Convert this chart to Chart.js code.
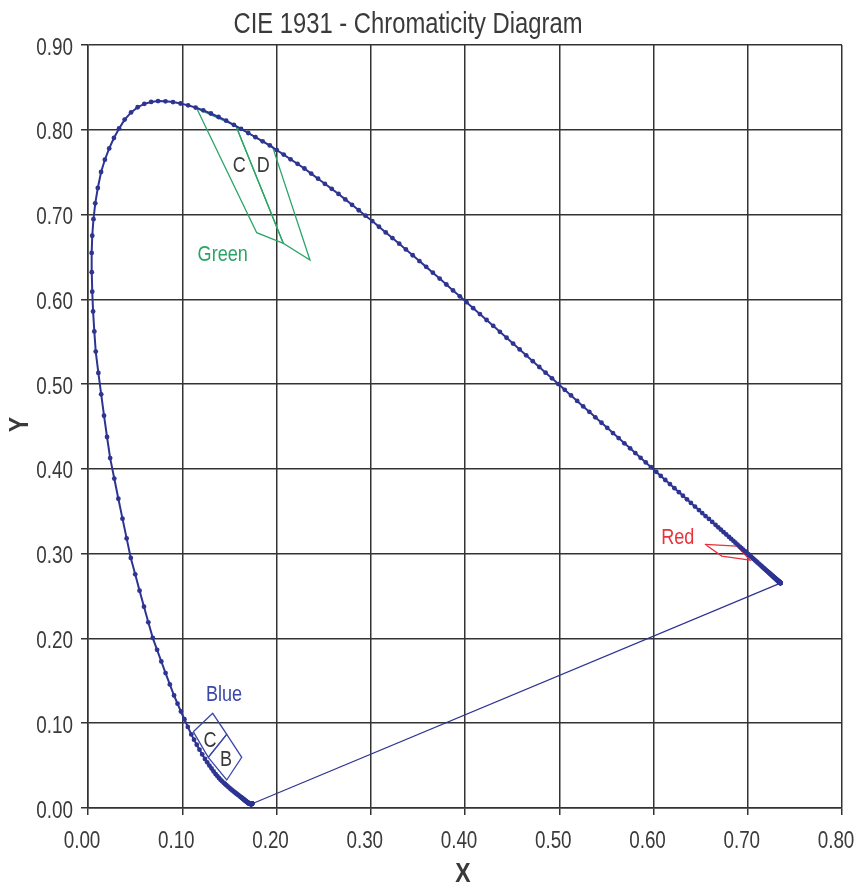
<!DOCTYPE html>
<html>
<head>
<meta charset="utf-8">
<title>CIE 1931 - Chromaticity Diagram</title>
<script src="https://cdn.jsdelivr.net/npm/chart.js@4.4.1/dist/chart.umd.min.js"></script>
<style>
  html, body { margin: 0; padding: 0; background: #fff; }
  #cie { display: block; }
</style>
</head>
<body>
<canvas id="cie" width="857" height="888"></canvas>
<script>
// Spectral locus, CIE 1931 2°, one point per nm from 380 to 700 nm
const startNm = 380;
const locusX = [
  .1741, .1741, .1741, .1740, .1740, .1740, .1740, .1739, .1739, .1738,
  .1738, .1738, .1737, .1737, .1736, .1736, .1735, .1735, .1734, .1734,
  .1733, .1732, .1732, .1731, .1731, .1730, .1729, .1728, .1728, .1727,
  .1726, .1725, .1724, .1723, .1722, .1721, .1720, .1718, .1717, .1716,
  .1714, .1712, .1710, .1708, .1705, .1703, .1700, .1698, .1695, .1692,
  .1689, .1685, .1681, .1677, .1673, .1669, .1664, .1659, .1654, .1649,
  .1644, .1637, .1631, .1624, .1618, .1611, .1602, .1593, .1584, .1575,
  .1566, .1555, .1544, .1532, .1521, .1510, .1496, .1482, .1468, .1454,
  .1440, .1423, .1406, .1389, .1372, .1355, .1333, .1311, .1288, .1265,
  .1241, .1212, .1183, .1154, .1125, .1096, .1059, .1023, .0986, .0950,
  .0913, .0868, .0823, .0778, .0733, .0687, .0640, .0594, .0547, .0501,
  .0454, .0410, .0366, .0322, .0279, .0235, .0202, .0170, .0140, .0110,
  .0082, .0067, .0054, .0045, .0040, .0039, .0045, .0058, .0077, .0104,
  .0139, .0179, .0225, .0275, .0330, .0389, .0457, .0527, .0598, .0670,
  .0743, .0822, .0902, .0982, .1062, .1142, .1223, .1304, .1385, .1466,
  .1547, .1624, .1700, .1777, .1853, .1929, .2002, .2076, .2149, .2223,
  .2296, .2368, .2441, .2513, .2586, .2658, .2730, .2801, .2873, .2944,
  .3016, .3087, .3159, .3230, .3302, .3373, .3445, .3516, .3588, .3659,
  .3731, .3802, .3873, .3945, .4016, .4087, .4158, .4229, .4299, .4370,
  .4441, .4510, .4580, .4649, .4719, .4788, .4855, .4923, .4990, .5058,
  .5125, .5190, .5254, .5319, .5383, .5448, .5509, .5570, .5630, .5691,
  .5752, .5807, .5863, .5918, .5974, .6029, .6077, .6125, .6174, .6222,
  .6270, .6312, .6355, .6397, .6440, .6482, .6517, .6552, .6588, .6623,
  .6658, .6687, .6715, .6744, .6772, .6801, .6824, .6847, .6869, .6892,
  .6915, .6933, .6951, .6970, .6988, .7006, .7021, .7035, .7050, .7064,
  .7079, .7091, .7103, .7116, .7128, .7140, .7150, .7160, .7170, .7180,
  .7190, .7198, .7206, .7214, .7222, .7230, .7236, .7242, .7248, .7254,
  .7260, .7265, .7269, .7274, .7278, .7283, .7286, .7290, .7293, .7297,
  .7300, .7302, .7304, .7307, .7309, .7311, .7313, .7315, .7316, .7318,
  .7320, .7321, .7323, .7324, .7326, .7327, .7328, .7330, .7331, .7333,
  .7334, .7335, .7336, .7338, .7339, .7340, .7341, .7342, .7343, .7343,
  .7344, .7344, .7345, .7345, .7346, .7346, .7346, .7346, .7347, .7347,
  .7347
];
const locusY = [
  .0050, .0050, .0050, .0050, .0050, .0050, .0050, .0050, .0049, .0049,
  .0049, .0049, .0049, .0049, .0049, .0049, .0049, .0049, .0048, .0048,
  .0048, .0048, .0048, .0048, .0048, .0048, .0048, .0048, .0048, .0048,
  .0048, .0048, .0048, .0048, .0048, .0048, .0049, .0049, .0050, .0050,
  .0051, .0052, .0053, .0055, .0056, .0058, .0060, .0062, .0064, .0067,
  .0069, .0072, .0076, .0079, .0083, .0086, .0091, .0095, .0100, .0104,
  .0109, .0115, .0121, .0126, .0132, .0138, .0146, .0154, .0161, .0169,
  .0177, .0187, .0197, .0207, .0217, .0227, .0241, .0255, .0269, .0283,
  .0297, .0315, .0334, .0354, .0376, .0399, .0432, .0466, .0501, .0539,
  .0578, .0632, .0688, .0746, .0806, .0868, .0956, .1047, .1138, .1231,
  .1327, .1458, .1592, .1728, .1866, .2007, .2190, .2375, .2564, .2756,
  .2950, .3180, .3413, .3648, .3886, .4127, .4376, .4627, .4879, .5132,
  .5384, .5622, .5857, .6090, .6320, .6548, .6750, .6945, .7133, .7313,
  .7502, .7647, .7780, .7903, .8016, .8120, .8205, .8266, .8306, .8328,
  .8338, .8336, .8327, .8310, .8288, .8262, .8229, .8192, .8151, .8107,
  .8059, .8011, .7962, .7913, .7864, .7816, .7761, .7707, .7652, .7598,
  .7543, .7483, .7423, .7363, .7303, .7243, .7179, .7115, .7051, .6987,
  .6923, .6856, .6789, .6723, .6656, .6589, .6520, .6451, .6383, .6314,
  .6245, .6175, .6105, .6036, .5966, .5896, .5826, .5756, .5687, .5617,
  .5547, .5478, .5409, .5340, .5271, .5202, .5135, .5068, .5000, .4933,
  .4866, .4802, .4737, .4673, .4608, .4544, .4484, .4423, .4363, .4302,
  .4242, .4187, .4131, .4076, .4020, .3965, .3917, .3869, .3821, .3773,
  .3725, .3683, .3641, .3598, .3556, .3514, .3479, .3444, .3410, .3375,
  .3340, .3311, .3283, .3254, .3226, .3197, .3174, .3151, .3129, .3106,
  .3083, .3065, .3047, .3029, .3011, .2993, .2978, .2964, .2949, .2935,
  .2920, .2908, .2896, .2883, .2871, .2859, .2849, .2839, .2829, .2819,
  .2809, .2801, .2793, .2786, .2778, .2770, .2764, .2758, .2752, .2746,
  .2740, .2735, .2731, .2726, .2722, .2717, .2714, .2710, .2707, .2703,
  .2700, .2698, .2696, .2693, .2691, .2689, .2687, .2685, .2684, .2682,
  .2680, .2679, .2677, .2676, .2674, .2673, .2672, .2670, .2669, .2667,
  .2666, .2665, .2664, .2662, .2661, .2660, .2659, .2658, .2657, .2657,
  .2656, .2656, .2655, .2655, .2654, .2654, .2654, .2654, .2653, .2653,
  .2653
];

// line of purples (700 nm back to 380 nm)
const purpleX = [0.7347, 0.1741];
const purpleY = [0.2653, 0.0050];

// phosphor / filter regions  [x, y] corners
const greenC = [[0.1153, 0.8253], [0.1570, 0.8044], [0.2072, 0.6661], [0.1790, 0.6786]];
const greenD = [[0.1570, 0.8044], [0.1960, 0.7793], [0.2355, 0.6464], [0.2072, 0.6661]];
const blueC = [[0.1117, 0.0900], [0.1323, 0.1117], [0.1472, 0.0869], [0.1276, 0.0598]];
const blueB = [[0.1276, 0.0598], [0.1472, 0.0869], [0.1631, 0.0598], [0.1472, 0.0330]];
const redR = [[0.6546, 0.3110], [0.6886, 0.3090], [0.7024, 0.2925], [0.6724, 0.2972]];

// annotations
const labelText = ['C', 'D', 'Green', 'Blue', 'C', 'B', 'Red'];
const labelX = [0.1605, 0.1860, 0.1429, 0.1443, 0.1294, 0.1464, 0.6257];
const labelY = [0.7596, 0.7596, 0.6550, 0.1360, 0.0814, 0.0586, 0.3212];

const TITLE = 'CIE 1931 - Chromaticity Diagram';
const X_TITLE = 'X';
const Y_TITLE = 'Y';
const FONT = '"Liberation Sans", Arial, sans-serif';
const NARROW = 0.82;   // le texte de l'original est étroit
const LOCUS = '#2e3492';
const GREEN = '#2aa566';
const BLUE = '#3a48a8';
const RED = '#e8323c';
const TEXT = '#3a3a3a';
const labelColor = [TEXT, TEXT, GREEN, BLUE, TEXT, TEXT, RED];

function toPoints(corners) {
    // close the polygon
    const pts = corners.map(c => ({ x: c[0], y: c[1] }));
    pts.push({ x: corners[0][0], y: corners[0][1] });
    return pts;
}

function polygonDataset(corners, color) {
    return {
        data: toPoints(corners),
        showLine: true,
        borderColor: color,
        borderWidth: 1.3,
        pointRadius: 0,
        fill: false
    };
}

// texte étroit : police Arial compressée horizontalement
function narrowText(c, text, x, y, font, align, rotate) {
    c.save();
    c.translate(x, y);
    if (rotate) c.rotate(rotate);
    c.scale(NARROW, 1);
    c.font = font;
    c.textAlign = align;
    c.fillText(text, 0, 0);
    c.restore();
}

// Texte : titre, graduations, titres d'axes, étiquettes des zones
const textPlugin = {
    id: 'cieText',
    afterDraw(chart) {
        const { ctx, scales: { x, y }, chartArea } = chart;
        ctx.save();
        ctx.fillStyle = TEXT;
        ctx.textBaseline = 'alphabetic';

        narrowText(ctx, TITLE, 408, 33, '29px ' + FONT, 'center');

        x.ticks.forEach(t => {
            narrowText(ctx, t.value.toFixed(2), x.getPixelForValue(t.value) - 6, 848, '23px ' + FONT, 'center');
        });
        y.ticks.forEach(t => {
            narrowText(ctx, t.value.toFixed(2), 73, y.getPixelForValue(t.value) + 9.5, '23px ' + FONT, 'right');
        });

        const midX = (chartArea.left + chartArea.right) / 2;
        const midY = (chartArea.top + chartArea.bottom) / 2;
        narrowText(ctx, X_TITLE, midX - 2, 882, 'bold 28px ' + FONT, 'center');
        narrowText(ctx, Y_TITLE, 28, midY - 2, 'bold 28px ' + FONT, 'center', -Math.PI / 2);

        labelText.forEach((t, i) => {
            ctx.fillStyle = labelColor[i];
            narrowText(ctx, t, x.getPixelForValue(labelX[i]), y.getPixelForValue(labelY[i]) + 8,
                '22px ' + FONT, 'center');
        });
        ctx.restore();
    }
};

const ctx = document.getElementById('cie').getContext('2d');
new Chart(ctx, {
    type: 'scatter',
    data: {
        datasets: [
            {
                data: locusX.map((v, i) => ({ x: v, y: locusY[i] })),
                showLine: true,
                borderColor: LOCUS,
                borderWidth: 2,
                pointRadius: 2.4,
                pointBackgroundColor: LOCUS,
                pointBorderWidth: 0,
                tension: 0
            },
            {
                data: purpleX.map((v, i) => ({ x: v, y: purpleY[i] })),
                showLine: true,
                borderColor: LOCUS,
                borderWidth: 1.2,
                pointRadius: 0
            },
            polygonDataset(greenC, GREEN),
            polygonDataset(greenD, GREEN),
            polygonDataset(blueC, BLUE),
            polygonDataset(blueB, BLUE),
            polygonDataset(redR, RED)
        ]
    },
    options: {
        responsive: false,
        animation: false,
        events: [],
        layout: { padding: { top: 45, right: 15, left: 0, bottom: 0 } },
        plugins: {
            legend: { display: false },
            tooltip: { enabled: false }
        },
        scales: {
            x: {
                type: 'linear',
                min: 0,
                max: 0.8,
                afterFit(scale) {
                    scale.height = 80;
                    scale.paddingLeft = 0;
                    scale.paddingRight = 0;
                },
                ticks: {
                    stepSize: 0.1,
                    color: 'rgba(0,0,0,0)',
                    font: { family: FONT, size: 20 },
                    callback: v => v.toFixed(2)
                },
                grid: { color: '#333333', lineWidth: 1.5, tickLength: 7 },
                border: { color: '#333333', width: 1.5 }
            },
            y: {
                type: 'linear',
                min: 0,
                max: 0.9,
                afterFit(scale) {
                    scale.width = 88;
                    scale.paddingTop = 0;
                    scale.paddingBottom = 0;
                },
                ticks: {
                    stepSize: 0.1,
                    color: 'rgba(0,0,0,0)',
                    font: { family: FONT, size: 20 },
                    callback: v => v.toFixed(2)
                },
                grid: { color: '#333333', lineWidth: 1.5, tickLength: 7 },
                border: { color: '#333333', width: 1.5 }
            }
        }
    },
    plugins: [textPlugin]
});
</script>
</body>
</html>
